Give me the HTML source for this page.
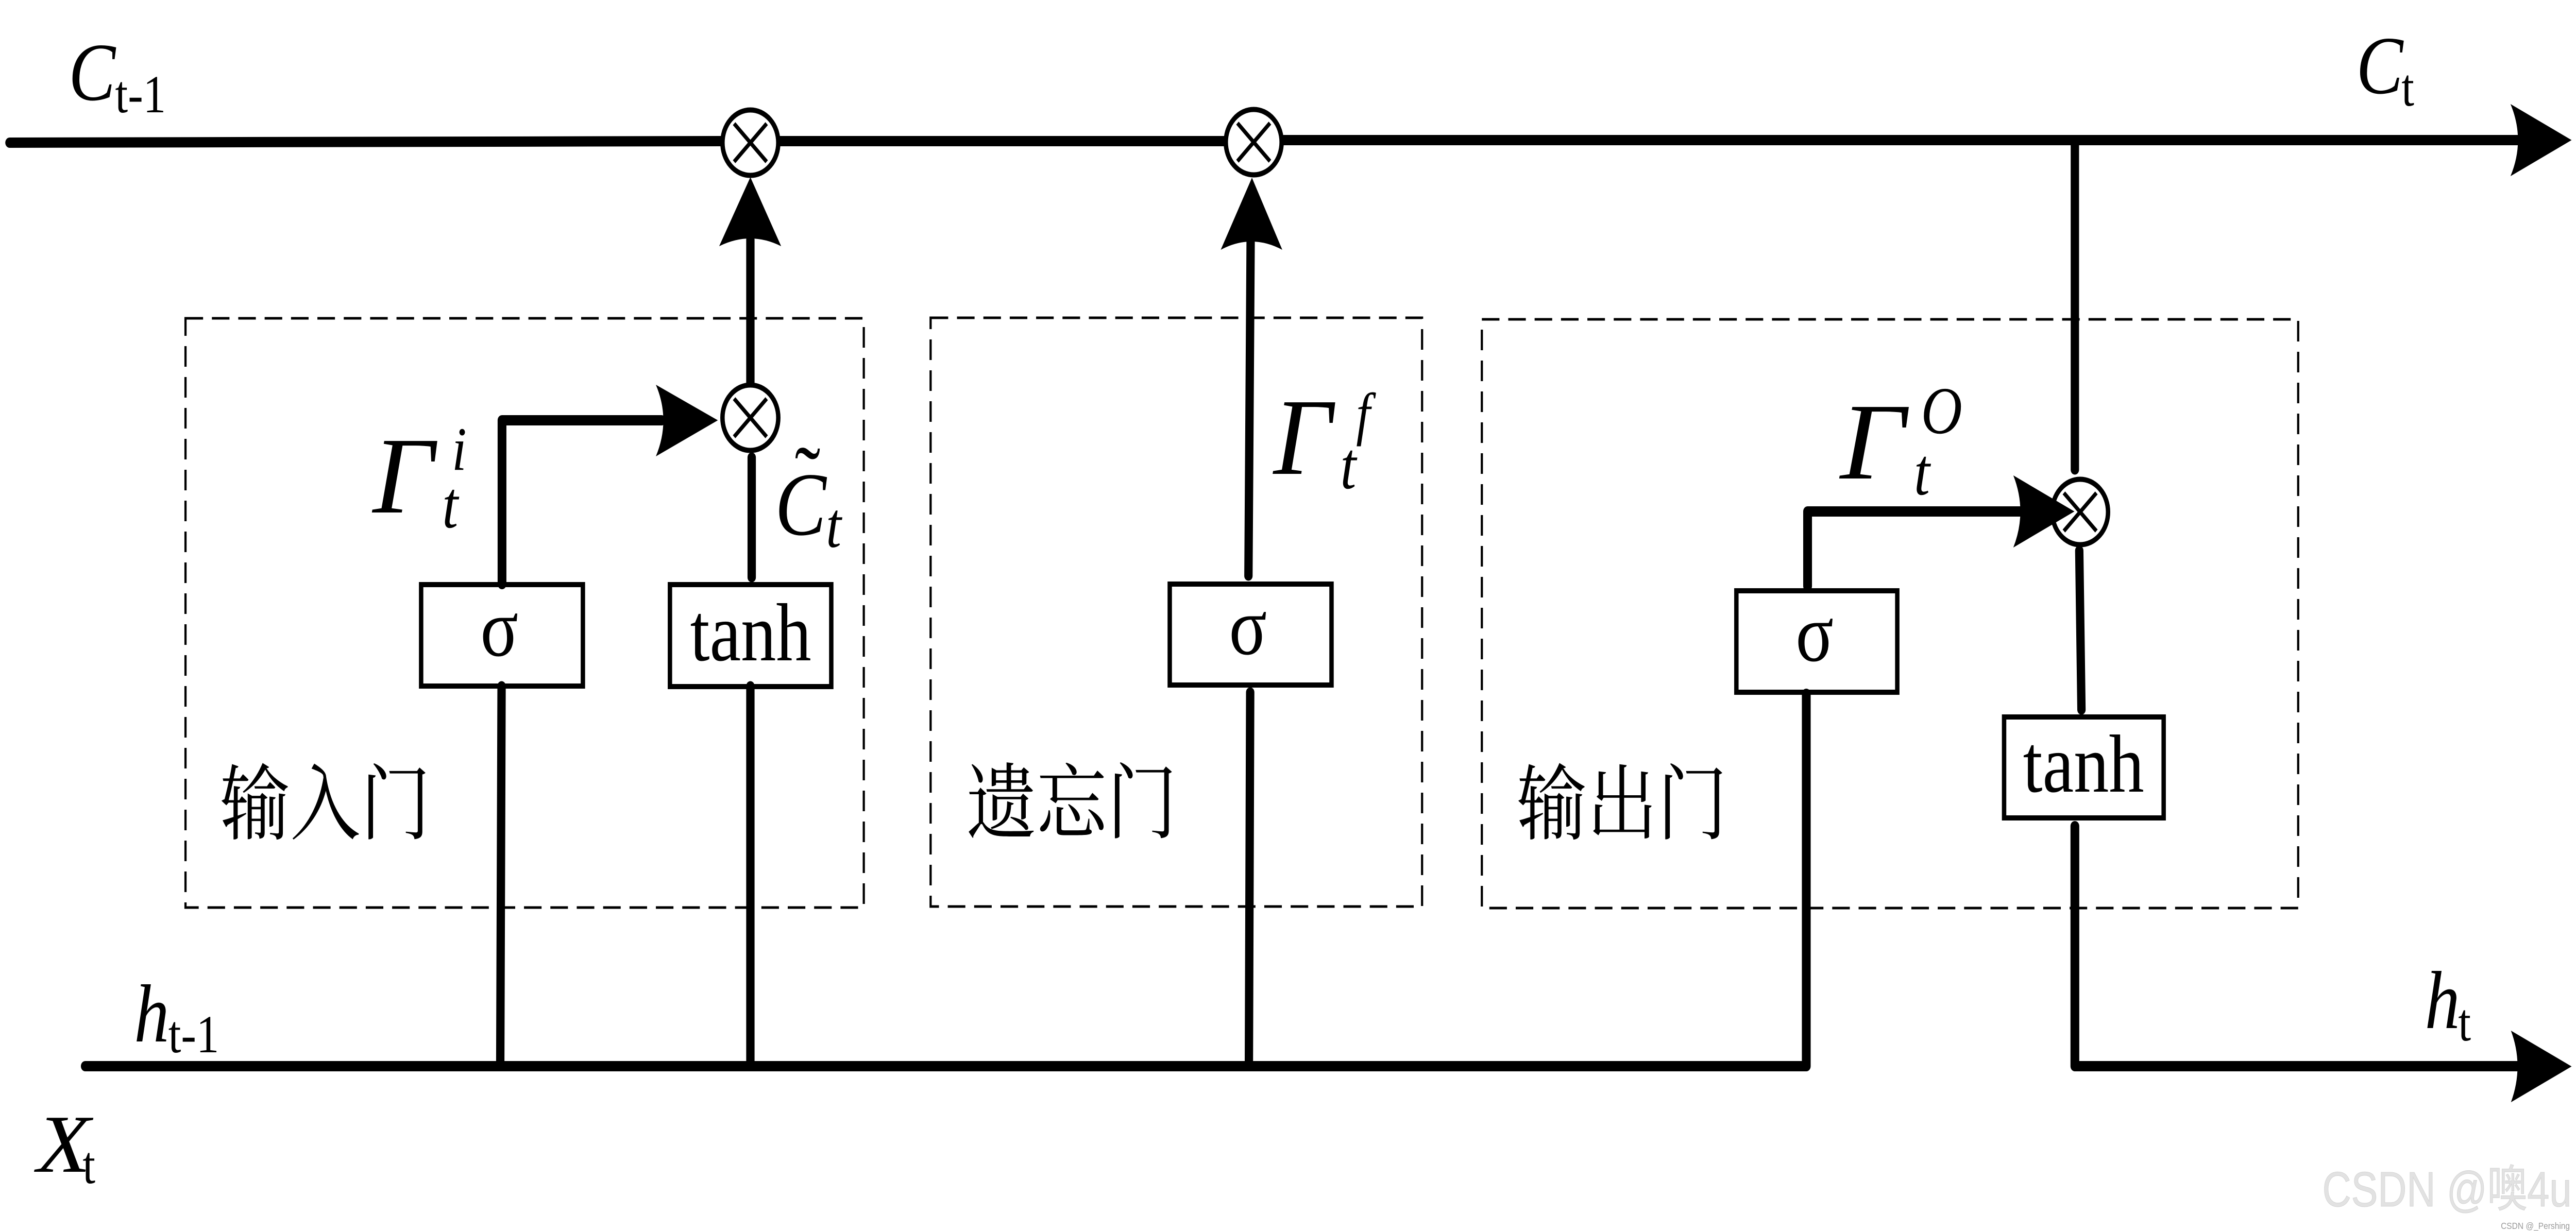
<!DOCTYPE html>
<html>
<head>
<meta charset="utf-8">
<style>
html,body{margin:0;padding:0;background:#fff;width:100%;height:100%;overflow:hidden}
svg{display:block;width:100vw;height:100vh}
text{fill:#000;font-family:"Liberation Serif","Noto Serif CJK SC",serif}
.i{font-style:italic}
.c{font-family:"Liberation Serif","Noto Serif CJK SC",serif;font-size:160px}
.wm{font-family:"Liberation Sans","Noto Sans CJK SC",sans-serif;fill:#e2e2e2;stroke:#d4d4d4;stroke-width:1}
</style>
</head>
<body>
<svg viewBox="0 0 5860 2390" preserveAspectRatio="none" xmlns="http://www.w3.org/2000/svg">
<rect width="5860" height="2390" fill="#fff"/>

<!-- dashed gate frames -->
<g fill="none" stroke="#000" stroke-width="5" stroke-dasharray="40 20">
<rect x="422" y="618" width="1543" height="1144"/>
<rect x="2117" y="617" width="1118" height="1143"/>
<rect x="3371" y="620" width="1857" height="1143"/>
</g>

<!-- boxes -->
<g fill="none" stroke="#000" stroke-width="10">
<rect x="958" y="1135" width="368" height="197"/>
<rect x="1524" y="1135" width="367" height="198"/>
<rect x="2661" y="1134" width="368" height="196"/>
<rect x="3950" y="1147" width="366" height="197"/>
<rect x="4559" y="1392" width="363" height="196"/>
</g>

<!-- connectors -->
<g fill="none" stroke="#000" stroke-width="20" stroke-linecap="round" stroke-linejoin="round">
<path d="M22 277 L1640 274"/>
<path d="M1775 274 L2784 274"/>
<path d="M2920 272 L5730 272"/>
<path d="M194 2070 L4109 2070 L4109 1347" />
<path d="M4720 1604 L4720 2070 L5730 2070"/>
<path d="M1142 1134 L1142 816 L1505 816"/>
<path d="M4112 1138 L4112 993 L4600 993"/>
</g>
<g fill="none" stroke="#000" stroke-width="19" stroke-linecap="round">
<path d="M1141 1332 L1138 2070"/>
<path d="M1707 465 L1707 745"/>
<path d="M1710 888 L1710 1121"/>
<path d="M1707 1332 L1707 2070"/>
<path d="M2845 470 L2840 1118"/>
<path d="M2844 1344 L2841 2070"/>
<path d="M4720 272 L4720 912"/>
<path d="M4730 1069 L4735 1378"/>
</g>

<!-- multiply nodes -->
<g fill="#fff" stroke="#000" stroke-width="10">
<circle cx="1707" cy="277" r="63.5"/>
<circle cx="1707" cy="811" r="63.5"/>
<circle cx="2852" cy="276" r="63.5"/>
<circle cx="4732" cy="994" r="63.5"/>
</g>
<g fill="none" stroke="#000" stroke-width="8">
<path d="M1670 240 L1744 314 M1744 240 L1670 314"/>
<path d="M1670 774 L1744 848 M1744 774 L1670 848"/>
<path d="M2815 239 L2889 313 M2889 239 L2815 313"/>
<path d="M4695 957 L4769 1031 M4769 957 L4695 1031"/>
</g>

<!-- arrowheads -->
<g fill="#000">
<path d="M1707 344 L1636 478 Q1707 448 1777 478 Z"/>
<path d="M2848 345 L2777 485 Q2847 453 2917 485 Z"/>
<path d="M1633 816 L1492 747 Q1526 816 1492 886 Z"/>
<path d="M4719 993 L4580 923 Q4612 993 4580 1063 Z"/>
<path d="M5850 272 L5711 202 Q5745 272 5711 342 Z"/>
<path d="M5850 2070.5 L5712 2001 Q5742 2070 5712 2140 Z"/>
</g>

<!-- state labels -->
<text class="i" x="156" y="194" font-size="160">C</text>
<text x="262" y="218" font-size="104">t-1</text>
<text class="i" x="5360" y="181" font-size="160">C</text>
<text x="5463" y="205" font-size="104">t</text>
<text class="i" x="305" y="2022" font-size="160">h</text>
<text x="383" y="2043" font-size="104">t-1</text>
<text class="i" x="5516" y="1996" font-size="160">h</text>
<text x="5592" y="2020" font-size="104">t</text>
<text class="i" x="84" y="2275" font-size="160" textLength="122" lengthAdjust="spacingAndGlyphs">X</text>
<text x="188" y="2297" font-size="104">t</text>

<!-- box labels -->
<text x="1136" y="1273" font-size="160" text-anchor="middle">σ</text>
<text x="2839" y="1270" font-size="160" text-anchor="middle">σ</text>
<text x="4128" y="1283" font-size="160" text-anchor="middle">σ</text>
<text x="1570" y="1282" font-size="160">tanh</text>
<text x="4602" y="1537" font-size="160">tanh</text>

<!-- gate symbols -->
<text class="i" x="848" y="995" font-size="212" textLength="139" lengthAdjust="spacingAndGlyphs">Γ</text>
<text class="i" x="1028" y="912" font-size="120">i</text>
<text class="i" x="1006" y="1024" font-size="130">t</text>

<text class="i" x="2897" y="920" font-size="212" textLength="133" lengthAdjust="spacingAndGlyphs">Γ</text>
<text class="i" x="3085" y="842" font-size="115">f</text>
<text class="i" x="3049" y="948" font-size="130">t</text>

<text class="i" x="4186" y="929" font-size="212" textLength="148" lengthAdjust="spacingAndGlyphs">Γ</text>
<text class="i" x="4370" y="841" font-size="130">O</text>
<text class="i" x="4354" y="960" font-size="130">t</text>

<text class="i" x="1763" y="1038" font-size="175">C</text>
<text x="1808" y="987" font-size="175">˜</text>
<text class="i" x="1879" y="1062" font-size="125">t</text>

<!-- gate names -->
<text class="c" x="500" y="1617">输入门</text>
<text class="c" x="2198" y="1615">遗忘门</text>
<text class="c" x="3450" y="1617">输出门</text>

<!-- watermark -->
<text class="wm" x="5283" y="2342" font-size="96" textLength="567" lengthAdjust="spacingAndGlyphs">CSDN @噢4u</text>
<text class="wm" x="5689" y="2386" font-size="18" textLength="157" lengthAdjust="spacingAndGlyphs" style="fill:#9a9a9a;stroke:none">CSDN @_Pershing</text>
</svg>
</body>
</html>
